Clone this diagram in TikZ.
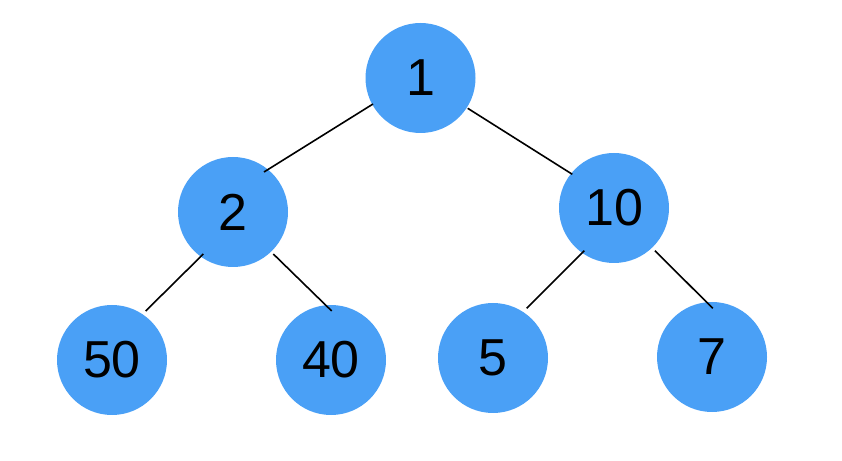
\documentclass[tikz,border=0pt]{standalone}
\usepackage{fontspec}
\setmainfont{Liberation Sans}
\usetikzlibrary{calc}
\definecolor{nodeblue}{HTML}{4AA0F6}
\begin{document}
\begin{tikzpicture}[x=1pt,y=1pt,
  treenode/.style={circle,fill=nodeblue,minimum size=110pt,inner sep=0pt,font=\fontsize{52}{52}\selectfont,text=black},
  edge/.style={draw=black,line width=1.6pt}]
\useasboundingbox (0,0) rectangle (842,460);
\node[treenode] (n1) at (420.5,382) {1};
\node[treenode] (n2) at (233,248) {2};
\node[treenode] (n10) at (614,252) {10};
\node[treenode] (n50) at (112,100) {50};
\node[treenode] (n40) at (331,100) {40};
\node[treenode] (n5) at (493,102) {5};
\node[treenode] (n7) at (712,103) {7};
\draw[edge] ($(n1)+(-47.5,-26)$) -- ($(n2)+(31,40)$);
\draw[edge] ($(n1)+(47.2,-30.3)$) -- ($(n10)+(-41.7,33.7)$);
\draw[edge] ($(n2)+(-29.7,-42)$) -- ($(n50)+(33.7,49)$);
\draw[edge] ($(n2)+(40.3,-42)$) -- ($(n40)+(0.7,49)$);
\draw[edge] ($(n10)+(-29.7,-42.7)$) -- ($(n5)+(33.7,49.7)$);
\draw[edge] ($(n10)+(41,-42.7)$) -- ($(n7)+(0.7,48.7)$);
\end{tikzpicture}
\end{document}
